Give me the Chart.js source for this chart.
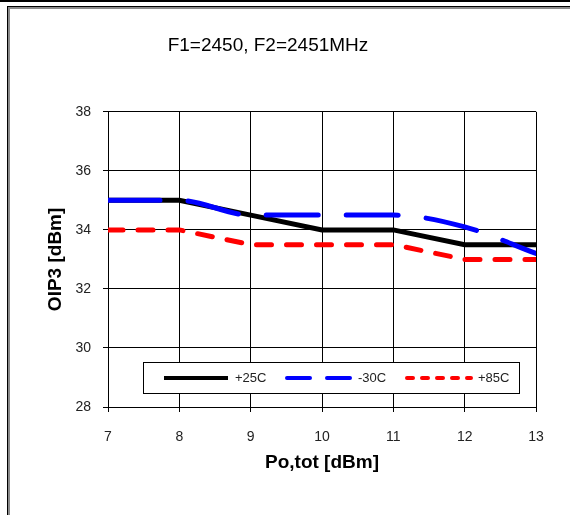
<!DOCTYPE html>
<html>
<head>
<meta charset="utf-8">
<script src="https://cdn.jsdelivr.net/npm/chart.js@4.4.1/dist/chart.umd.min.js"></script>
<style>
  html, body { margin: 0; padding: 0; background: #fff; }
  #wrap { width: 570px; height: 515px; }
</style>
</head>
<body>
<div id="wrap"><canvas id="oipChart" width="570" height="515"></canvas></div>
<script>
// output power sweep (dBm) and measured OIP3 per temperature
const poTot = [7, 8, 9, 10, 11, 12, 13];
const oip3Room = [35, 35, 34.5, 34, 34, 33.5, 33.5];
const oip3Cold = [35, 35, 34.5, 34.5, 34.5, 34.1, 33.2];
const oip3Hot = [34, 34, 33.5, 33.5, 33.5, 33, 33];
const seriesNames = ['+25C', '-30C', '+85C'];

const yTicks = [28, 30, 32, 34, 36, 38];

const FONT = "Arial, 'Liberation Sans', sans-serif";

function toPoints(ys) {
    return poTot.map((x, i) => ({ x: x, y: ys[i] }));
}

// white page with the double frame line
const framePlugin = {
    id: 'frame',
    beforeDraw(chart) {
        const c = chart.ctx;
        c.save();
        c.fillStyle = '#fff';
        c.fillRect(0, 0, chart.width, chart.height);
        c.fillStyle = '#000';
        c.fillRect(0, 0, chart.width, 2);
        c.fillRect(7, 6, chart.width - 7, 1);
        c.fillRect(7, 6, 1, chart.height - 6);
        c.fillStyle = '#8a8a8a';
        c.fillRect(8, 7, chart.width - 8, 2);
        c.fillRect(8, 7, 2, chart.height - 7);
        c.restore();
    }
};

// boxed legend sitting inside the plot area
const boxLegend = {
    id: 'boxLegend',
    afterDraw(chart) {
        const c = chart.ctx;
        const a = chart.chartArea;
        const left = a.left + 35, right = a.right - 16;
        const top = a.bottom - 45, bottom = a.bottom - 13;
        const midY = (top + bottom) / 2;
        c.save();
        c.fillStyle = '#fff';
        c.fillRect(left, top, right - left, bottom - top);
        c.strokeStyle = '#000';
        c.lineWidth = 1;
        c.strokeRect(left + 0.5, top + 0.5, right - left - 1, bottom - top - 1);

        const offsets = [19, 142, 262];
        const dashes = [[], [23, 17], [6, 9]];
        chart.data.datasets.forEach((ds, i) => {
            const x0 = left + offsets[i];
            c.beginPath();
            c.setLineDash(dashes[i]);
            c.lineCap = ds.borderCapStyle || 'butt';
            c.strokeStyle = ds.borderColor;
            c.lineWidth = 4;
            c.moveTo(x0 + 2, midY);
            c.lineTo(x0 + 66, midY);
            c.stroke();
            c.setLineDash([]);
            c.fillStyle = '#222';
            c.font = '13px ' + FONT;
            c.textBaseline = 'middle';
            c.fillText(ds.label, x0 + 73, midY);
        });
        c.restore();
    }
};

const ctx = document.getElementById('oipChart').getContext('2d');
const oipChart = new Chart(ctx, {
    type: 'line',
    data: {
        datasets: [{
            label: seriesNames[0],
            data: toPoints(oip3Room),
            borderColor: '#000',
            borderWidth: 5,
            borderCapStyle: 'butt',
            pointRadius: 0,
            tension: 0,
            order: 1
        }, {
            label: seriesNames[1],
            data: toPoints(oip3Cold),
            borderColor: '#0000ff',
            borderWidth: 5,
            borderDash: [52, 28],
            borderCapStyle: 'round',
            pointRadius: 0,
            cubicInterpolationMode: 'monotone',
            order: 0
        }, {
            label: seriesNames[2],
            data: toPoints(oip3Hot),
            borderColor: '#ff0000',
            borderWidth: 5,
            borderDash: [15, 15],
            borderCapStyle: 'round',
            pointRadius: 0,
            tension: 0,
            order: 2
        }]
    },
    options: {
        responsive: false,
        animation: false,
        layout: { padding: { left: 0, right: 34, top: 0, bottom: 0 } },
        plugins: {
            legend: { display: false },
            tooltip: { enabled: false },
            title: {
                display: true,
                text: 'F1=2450, F2=2451MHz',
                color: '#000',
                font: { family: FONT, size: 19, weight: 'normal', lineHeight: 1.2 },
                padding: { top: 34, bottom: 55 }
            }
        },
        scales: {
            x: {
                type: 'linear',
                min: 7,
                max: 13,
                afterFit(scale) { scale.height = 108; },
                ticks: {
                    stepSize: 1,
                    color: '#222',
                    padding: 17,
                    font: { family: FONT, size: 14 }
                },
                grid: { color: '#000', lineWidth: 1, tickLength: 5 },
                border: { color: '#000', width: 1 },
                title: {
                    display: true,
                    text: 'Po,tot [dBm]',
                    color: '#000',
                    font: { family: FONT, size: 19, weight: 'bold', lineHeight: 1.2 },
                    padding: { top: 0, bottom: 41 }
                }
            },
            y: {
                min: 28,
                max: 38,
                afterFit(scale) { scale.width = 108; },
                afterBuildTicks(scale) { scale.ticks = yTicks.map(v => ({ value: v })); },
                ticks: {
                    color: '#222',
                    padding: 12,
                    font: { family: FONT, size: 14 }
                },
                grid: { color: '#000', lineWidth: 1, tickLength: 5 },
                border: { color: '#000', width: 1 },
                title: {
                    display: true,
                    text: 'OIP3 [dBm]',
                    color: '#000',
                    font: { family: FONT, size: 19, weight: 'bold', lineHeight: 1.2 },
                    padding: { top: 44, bottom: 0 }
                }
            }
        }
    },
    plugins: [framePlugin, boxLegend]
});
</script>
</body>
</html>
